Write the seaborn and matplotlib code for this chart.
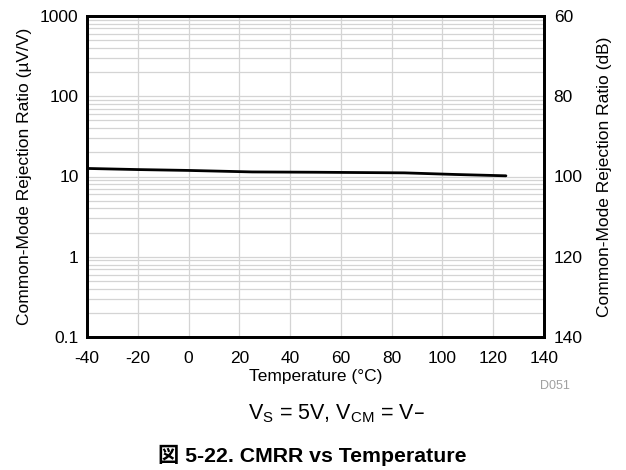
import matplotlib
matplotlib.use("Agg")
import matplotlib.pyplot as plt
import seaborn as sns
import numpy as np
import pandas as pd
from matplotlib.ticker import LogLocator, FixedLocator, NullFormatter

temps = [-40, -20, 0, 25, 50, 85, 105, 125]
cmrr_uvv = [12.6, 12.2, 11.9, 11.4, 11.3, 11.1, 10.6, 10.2]
x_ticks = [-40, -20, 0, 20, 40, 60, 80, 100, 120, 140]
y_ticks = [0.1, 1, 10, 100, 1000]
y_tick_labels = ["0.1", "1", "10", "100", "1000"]
db_ticks = [60, 80, 100, 120, 140]

sns.set_style("white")
plt.rcParams['font.family'] = ['Liberation Sans', 'Noto Sans CJK JP', 'DejaVu Sans']
plt.rcParams['text.color'] = 'black'
plt.rcParams['axes.labelcolor'] = 'black'
plt.rcParams['xtick.color'] = 'black'
plt.rcParams['ytick.color'] = 'black'

fig = plt.figure(figsize=(6.26, 4.70), dpi=100)
ax = fig.add_axes([87/626, 1-337/470, (544-87)/626, (337-16)/470])

df = pd.DataFrame({"T": temps, "CMRR": cmrr_uvv})
sns.lineplot(data=df, x="T", y="CMRR", ax=ax, color="black", linewidth=2.0)

ax.set_yscale("log")
ax.set_xlim(-40, 140)
ax.set_ylim(0.1, 1000)
ax.set_xticks(x_ticks)
ax.set_xticklabels([str(t) for t in x_ticks])
ax.yaxis.set_major_locator(FixedLocator(y_ticks))
ax.set_yticklabels(y_tick_labels)
ax.yaxis.set_minor_locator(LogLocator(base=10, subs=np.arange(2, 10)))
ax.yaxis.set_minor_formatter(NullFormatter())
ax.grid(True, which="both", axis="y", color="#d4d4d4", linewidth=0.9)
ax.grid(True, which="major", axis="x", color="#d4d4d4", linewidth=0.9)
ax.set_axisbelow(True)
ax.tick_params(axis="x", which="both", length=0, labelsize=12.5, pad=10)
ax.tick_params(axis="y", which="both", length=0, labelsize=12.5, pad=6)
for s in ax.spines.values():
    s.set_linewidth(2)
    s.set_color("black")
ax.set_xlabel("Temperature (°C)", fontsize=12.5, labelpad=2)
ax.set_ylabel("Common-Mode Rejection Ratio (µV/V)", fontsize=12.5, labelpad=6)

ax2 = ax.twinx()
ax2.set_ylim(140, 60)
ax2.set_yticks(db_ticks)
ax2.set_yticklabels([str(d) for d in db_ticks])
ax2.tick_params(axis="y", length=0, labelsize=12.5, pad=7)
for s in ax2.spines.values():
    s.set_linewidth(2)
    s.set_color("black")
ax2.set_ylabel("Common-Mode Rejection Ratio (dB)", fontsize=12.5, labelpad=10)

fig.text(555/626, 1-386/470, "D051", fontsize=9, color="#a0a0a0", ha="center", va="center")
fig.text(336/626, 1-414/470, r"V$_\mathregular{S}$ = 5V, V$_\mathregular{CM}$ = V–", fontsize=15.5,
         ha="center", va="center")
fig.text(312/626, 1-455/470, "図 5-22. CMRR vs Temperature", fontsize=15.3, fontweight="bold",
         ha="center", va="center")

fig.savefig("out.png", dpi=100)
